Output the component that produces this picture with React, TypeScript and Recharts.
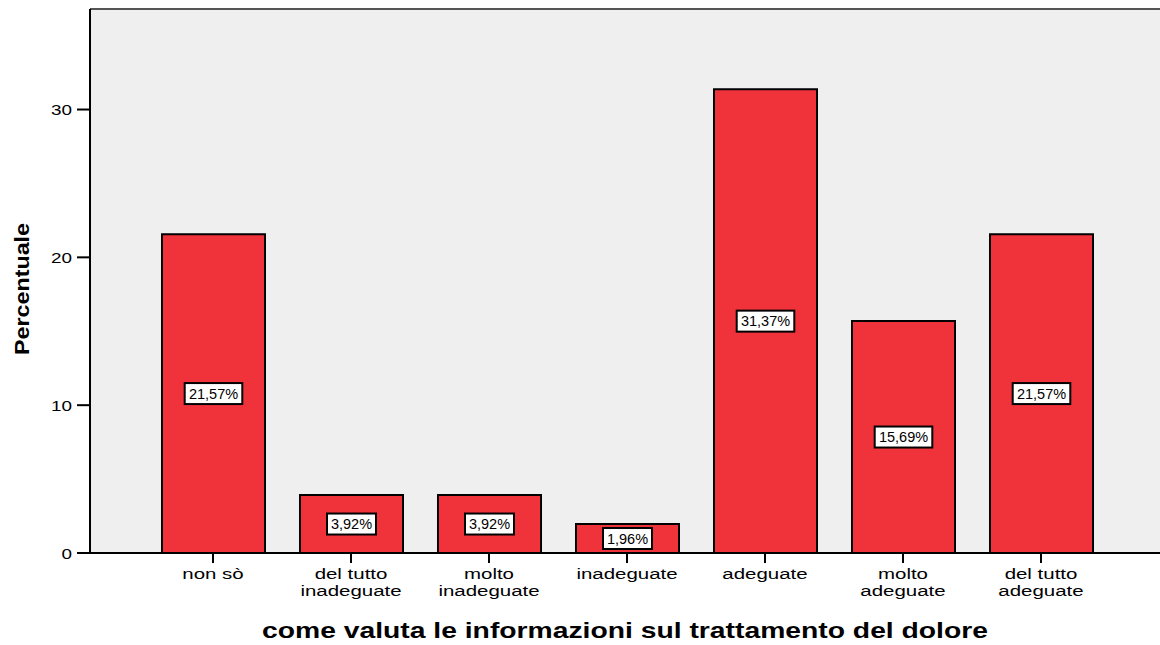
import React from 'react'
import {
  BarChart,
  Bar,
  XAxis,
  YAxis,
  CartesianGrid,
  LabelList,
  ReferenceLine,
  Label
} from 'recharts'

const categories = [
  'non sò',
  'del tutto inadeguate',
  'molto inadeguate',
  'inadeguate',
  'adeguate',
  'molto adeguate',
  'del tutto adeguate'
]
const tickLines = [
  ['non sò'],
  ['del tutto', 'inadeguate'],
  ['molto', 'inadeguate'],
  ['inadeguate'],
  ['adeguate'],
  ['molto', 'adeguate'],
  ['del tutto', 'adeguate']
]
const percentages = [21.57, 3.92, 3.92, 1.96, 31.37, 15.69, 21.57]
const yTicks = [0, 10, 20, 30]
const yMax = 36.8

const data = categories.map((c, i) => ({ name: c, value: percentages[i] }))

const FONT = '"Liberation Sans", Arial, sans-serif'

// the source text is a bit stretched sideways
const CategoryTick = (props: any) => {
  const { x, y, index } = props
  const lines = tickLines[index] || []
  return (
    <g transform={`translate(${x},${y}) scale(1.32,1)`}>
      <text x={0} y={0} textAnchor="middle" fontFamily={FONT} fontSize={15.5} fill="#000">
        {lines.map((l: string, i: number) => (
          <tspan key={i} x={0} dy={i === 0 ? 14 : 17}>{l}</tspan>
        ))}
      </text>
    </g>
  )
}

const ValueTick = (props: any) => {
  const { x, y, payload } = props
  const s = String(payload.value)
  return (
    <text x={x} y={y + 5.5} textAnchor="end" fontFamily={FONT} fontSize={15.5} fill="#000"
      textLength={s.length * 10.5} lengthAdjust="spacingAndGlyphs">{s}</text>
  )
}

const ValueBox = (props: any) => {
  const { x, y, width, height, value } = props
  const cx = x + width / 2
  const cy = y + height / 2
  const txt = value.toFixed(2).replace('.', ',') + '%'
  const w = txt.length * 8.6 + 6
  return (
    <g>
      <rect x={cx - w / 2} y={cy - 10.5} width={w} height={21} fill="#fff" stroke="#000" strokeWidth={2} />
      <text x={cx} y={cy + 5} textAnchor="middle" fontFamily={FONT} fontSize={14.5} fill="#000">{txt}</text>
    </g>
  )
}

const XTitle = (props: any) => {
  const { viewBox } = props
  const cx = 625
  const y = viewBox.y + viewBox.height - 7
  return (
    <text x={cx} y={y} textAnchor="middle" fontFamily={FONT} fontSize={22} fontWeight="bold" fill="#000"
      textLength={726} lengthAdjust="spacingAndGlyphs">
      come valuta le informazioni sul trattamento del dolore
    </text>
  )
}

const YTitle = (props: any) => {
  const { viewBox } = props
  const cy = viewBox.y + viewBox.height / 2 + 8
  const x = 29
  return (
    <text x={x} y={cy} transform={`rotate(-90 ${x} ${cy})`} textAnchor="middle" fontFamily={FONT}
      fontSize={20} fontWeight="bold" fill="#000" textLength={132} lengthAdjust="spacingAndGlyphs">
      Percentuale
    </text>
  )
}

export default function App() {
  return (
    <div style={{ position: 'absolute', left: 0, top: 0, width: 1160, height: 645, overflow: 'hidden', background: '#fff' }}>
      <BarChart
        width={1164}
        height={645}
        data={data}
        margin={{ top: 9, right: 0, left: 0, bottom: 0 }}
      >
        <CartesianGrid horizontal={false} vertical={false} fill="#EFEFEF" />
        <ReferenceLine y={yMax} stroke="#555" strokeWidth={2} />
        <XAxis
          dataKey="name"
          height={92}
          padding={{ left: 54, right: 54 }}
          stroke="#000"
          strokeWidth={2}
          tickSize={10}
          tickLine={{ stroke: '#000', strokeWidth: 2 }}
          tick={<CategoryTick />}
          interval={0}
        >
          <Label content={<XTitle />} />
        </XAxis>
        <YAxis
          width={90}
          domain={[0, yMax]}
          ticks={yTicks}
          stroke="#000"
          strokeWidth={2}
          tickSize={13}
          tickMargin={5}
          tickLine={{ stroke: '#000', strokeWidth: 2 }}
          tick={<ValueTick />}
          allowDataOverflow
        >
          <Label content={<YTitle />} />
        </YAxis>
        <Bar dataKey="value" fill="#F0333A" stroke="#000" strokeWidth={2} barSize={103} isAnimationActive={false}>
          <LabelList dataKey="value" content={<ValueBox />} />
        </Bar>
      </BarChart>
    </div>
  )
}
